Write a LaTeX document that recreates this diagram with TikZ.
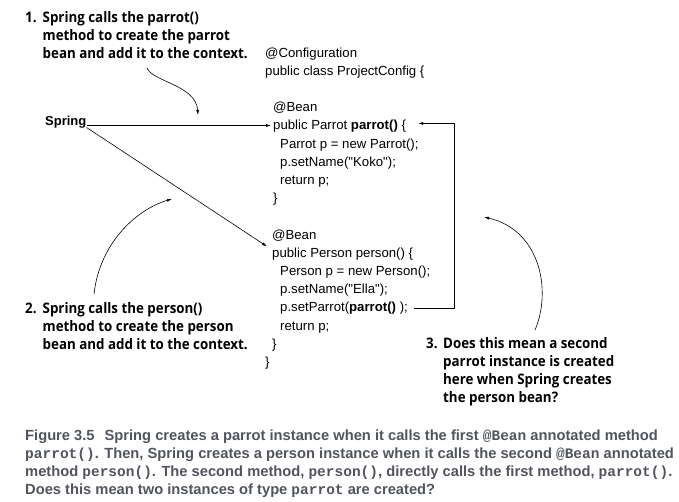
\documentclass[tikz,border=0pt]{standalone}
\usepackage{fontspec}
\setmainfont{Liberation Sans}
\newfontfamily\notefont[FakeStretch=0.92]{Open Sans}
\newfontfamily\codefont{Liberation Sans}
\newfontfamily\capfont{Liberation Sans}
\newfontfamily\capmono{Liberation Mono}
\usetikzlibrary{arrows.meta}
\definecolor{capgray}{RGB}{80,84,92}
\newcommand{\cmono}[1]{{\capmono\bfseries\fontsize{14.5}{18}\selectfont #1}}

\begin{document}
\begin{tikzpicture}[x=1pt,y=-1pt,
    note/.style={font=\notefont\bfseries\fontsize{14.5}{18}\selectfont, anchor=base west, inner sep=0pt},
    code/.style={font=\codefont\fontsize{13.2}{18}\selectfont, anchor=base west, inner sep=0pt},
    conn/.style={-{Latex[length=5pt,width=3pt]}, line width=0.6pt}]
    \useasboundingbox (0,0) rectangle (679,501);
    % notes
    \node[note] (n1) at (25,22) {\begin{tabular}[t]{@{}p{17.5pt}@{}l@{}}1. & Spring calls the parrot()\\ & method to create the parrot\\ & bean and add it to the context.\end{tabular}};
    \node[note] (n2) at (25,313) {\begin{tabular}[t]{@{}p{17.5pt}@{}l@{}}2. & Spring calls the person()\\ & method to create the person\\ & bean and add it to the context.\end{tabular}};
    \node[note] (n3) at (426,348) {\begin{tabular}[t]{@{}p{17pt}@{}l@{}}3. & Does this mean a second\\ & parrot instance is created\\ & here when Spring creates\\ & the person bean?\end{tabular}};
    \node[code, font=\codefont\bfseries\fontsize{13}{18}\selectfont] (spring) at (45,125.5) {Spring};
    % code
    \node[code] (cfg) at (265,57) {@Configuration};
    \node[code] (cls) at (265,75.2) {public class ProjectConfig \{};
    \node[code] (bean1) at (273,111.6) {@Bean};
    \node[code] (sig1) at (273,129.8) {public Parrot \textbf{parrot()} \{};
    \node[code] (new1) at (280,148) {Parrot p = new Parrot();};
    \node[code] (name1) at (280,166.2) {p.setName("Koko");};
    \node[code] (ret1) at (280,184.4) {return p;};
    \node[code] (end1) at (273,202.6) {\}};
    \node[code] (bean2) at (272,239) {@Bean};
    \node[code] (sig2) at (272,257.2) {public Person person() \{};
    \node[code] (new2) at (280,275.4) {Person p = new Person();};
    \node[code] (name2) at (280,293.6) {p.setName("Ella");};
    \node[code] (call) at (280,311.8) {p.setParrot(\textbf{parrot()} );};
    \node[code] (ret2) at (280,330) {return p;};
    \node[code] (end2) at (272,348.2) {\}};
    \node[code] (end3) at (265,366.4) {\}};
    % connectors
    \draw[conn] (spring.base east) -- ([xshift=-2pt]spring.base east -| sig1.west);
    \draw[conn] ([yshift=-2pt]spring.base east) -- ([xshift=-5pt,yshift=1pt]sig2.north west);
    \draw[conn] ([xshift=6pt]call.east) -- ++(40,0) |- ([xshift=12pt,yshift=3pt]sig1.east);
    \coordinate (p1) at (147,68);
    \coordinate (t1) at (198,115);
    \draw[conn] (p1) .. controls (153,82) and (196,85) .. (t1);
    \coordinate (p2) at (94,294);
    \coordinate (t2) at (172,199);
    \draw[conn] (p2) .. controls (100,240) and (140,208) .. (t2);
    \coordinate (p3) at (535,330);
    \coordinate (t3) at (484,217);
    \draw[conn] (p3) .. controls (552,290) and (540,230) .. (t3);
    % caption
    \node[anchor=base west, inner sep=0pt, text=capgray, font=\capfont\bfseries\fontsize{14.7}{18}\selectfont] (cap) at (25,440) {\begin{tabular}[t]{@{}l@{}}Figure 3.5\hspace{10pt}Spring creates a parrot instance when it calls the first \cmono{@Bean} annotated method\\
    \cmono{parrot()}. Then, Spring creates a person instance when it calls the second \cmono{@Bean} annotated\\
    method \cmono{person()}. The second method, \cmono{person()}, directly calls the first method, \cmono{parrot()}.\\
    Does this mean two instances of type \cmono{parrot} are created?\end{tabular}};
\end{tikzpicture}
\end{document}
